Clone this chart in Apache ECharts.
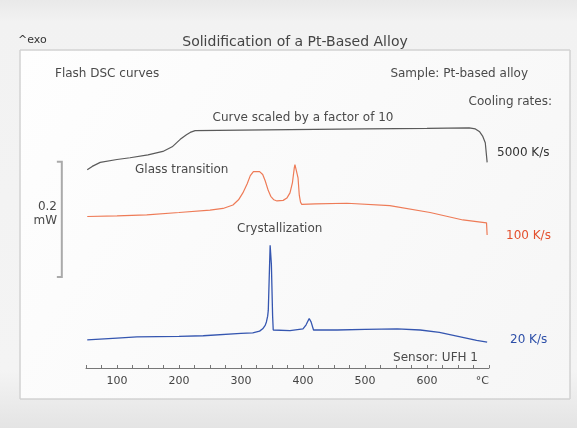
<!DOCTYPE html>
<html><head><meta charset="utf-8">
<script src="https://cdn.jsdelivr.net/npm/echarts@6/dist/echarts.min.js"></script>
<style>
html,body{margin:0;padding:0;}
body{width:577px;height:428px;background:linear-gradient(180deg,#e9e9e9 0px,#f2f2f2 22px,#f4f4f4 370px,#e4e4e4 428px);}
#c{width:577px;height:428px;}
</style></head>
<body><div id="c"></div>
<script>
// Temperature (°C) vs heat flow (mW, offset curves)
const curve5000 = [[52,0.344],[60,0.350],[73,0.357],[100,0.362],[121,0.365],[150,0.370],[174,0.376],[189,0.384],[202,0.397],[212,0.405],[218,0.409],[226,0.412],[300,0.413],[379,0.414],[500,0.415],[600,0.416],[668,0.417],[678,0.415],[685,0.410],[690,0.402],[694,0.391],[697,0.357]];
const curve100 = [[52,0.263],[100,0.264],[148,0.266],[200,0.270],[250,0.274],[271,0.277],[287,0.283],[296,0.292],[303,0.304],[310,0.320],[315,0.334],[320,0.341],[330,0.341],[335,0.336],[339,0.325],[344,0.308],[348,0.298],[353,0.292],[358,0.290],[368,0.291],[374,0.295],[379,0.304],[383,0.322],[386,0.348],[387,0.353],[390,0.353],[392,0.330],[394,0.300],[396,0.288],[398,0.284],[420,0.285],[471,0.286],[540,0.282],[605,0.270],[658,0.257],[696,0.252],[697,0.231]];
const curve20 = [[52,0.049],[100,0.052],[132,0.054],[200,0.055],[239,0.056],[300,0.060],[319,0.061],[330,0.064],[335,0.068],[339,0.074],[341,0.080],[343,0.090],[344,0.100],[347,0.213],[349,0.180],[351,0.090],[352,0.066],[355,0.064],[379,0.065],[400,0.068],[405,0.075],[410,0.086],[413,0.080],[417,0.066],[420,0.066],[455,0.066],[500,0.067],[552,0.068],[589,0.066],[620,0.062],[650,0.055],[680,0.048],[697,0.045]];
// 0.2 mW scale bar (temperature position, bottom and top heat flow)
const scaleBarX = 11, scaleBarSerifX = 3;
const scaleBarY = [0.158, 0.358];
const xTickLabels = {100:'100',200:'200',300:'300',400:'400',500:'500',600:'600',700:'°C'};

const font = '"DejaVu Sans", Verdana, sans-serif';
const chart = echarts.init(document.getElementById('c'), null, {renderer:'canvas'});
function txt(x,y,s,opt){
  return {type:'text',x:x,y:y,style:Object.assign({text:s,fill:'#4a4a4a',font:'12px '+font,textVerticalAlign:'middle'},opt||{})};
}
const graphics = [
    {type:'rect',shape:{x:20,y:50,width:550,height:349},style:{fill:new echarts.graphic.LinearGradient(0,0,1,1,[{offset:0,color:'#fefefe'},{offset:1,color:'#f6f6f6'}]),stroke:'#d2d2d2',lineWidth:1},z:-10},
    txt(18,40,'^exo',{font:'11px '+font,fill:'#333'}),
    txt(295,42,'Solidification of a Pt-Based Alloy',{font:'14px '+font,textAlign:'center',fill:'#444'}),
    txt(55,74,'Flash DSC curves'),
    txt(528,74,'Sample: Pt-based alloy',{textAlign:'right'}),
    txt(552,102,'Cooling rates:',{textAlign:'right'}),
    txt(303,118,'Curve scaled by a factor of 10',{textAlign:'center'}),
    txt(497,153,'5000 K/s',{fill:'#333'}),
    txt(135,170,'Glass transition'),
    txt(237,229,'Crystallization'),
    txt(506,236,'100 K/s',{fill:'#e4502e'}),
    txt(510,340,'20 K/s',{fill:'#2d4fa8'}),
    txt(478,358,'Sensor: UFH 1',{textAlign:'right'}),
    txt(57,207,'0.2',{textAlign:'right'}),
    txt(57,221,'mW',{textAlign:'right'})
];
const option = {
  animation:false,
  backgroundColor:'transparent',
  graphic:graphics,
  grid:{left:86,right:88,top:80,bottom:60},
  xAxis:{type:'value',min:50,max:700,interval:25,
    axisLine:{show:true,lineStyle:{color:'#777',width:1}},
    axisTick:{show:true,inside:true,length:3,lineStyle:{color:'#777'}},
    splitLine:{show:false},
    axisLabel:{color:'#444',fontSize:11,fontFamily:font,margin:8,showMinLabel:true,showMaxLabel:true,
      alignMaxLabel:'right',
      formatter:function(v){return xTickLabels[v]||'';}}
  },
  yAxis:{type:'value',min:0,max:0.5,show:false},
  series:[
    {type:'line',data:curve5000,showSymbol:false,smooth:false,lineStyle:{color:'#5a5a5a',width:1.2},z:3},
    {type:'line',data:curve100,showSymbol:false,smooth:false,lineStyle:{color:'#ee7b57',width:1.2},z:3},
    {type:'line',data:curve20,showSymbol:false,smooth:false,lineStyle:{color:'#3556b0',width:1.3},z:3}
  ]
};
chart.setOption(option);
const pTop = chart.convertToPixel({gridIndex:0},[scaleBarX,scaleBarY[1]]);
const pBot = chart.convertToPixel({gridIndex:0},[scaleBarX,scaleBarY[0]]);
const pSer = chart.convertToPixel({gridIndex:0},[scaleBarSerifX,scaleBarY[0]]);
graphics.push({type:'polyline',shape:{points:[[pSer[0],pTop[1]],pTop,pBot,[pSer[0],pBot[1]]]},style:{stroke:'#aaa',lineWidth:2,fill:null}});
chart.setOption({graphic:graphics});
</script></body></html>
